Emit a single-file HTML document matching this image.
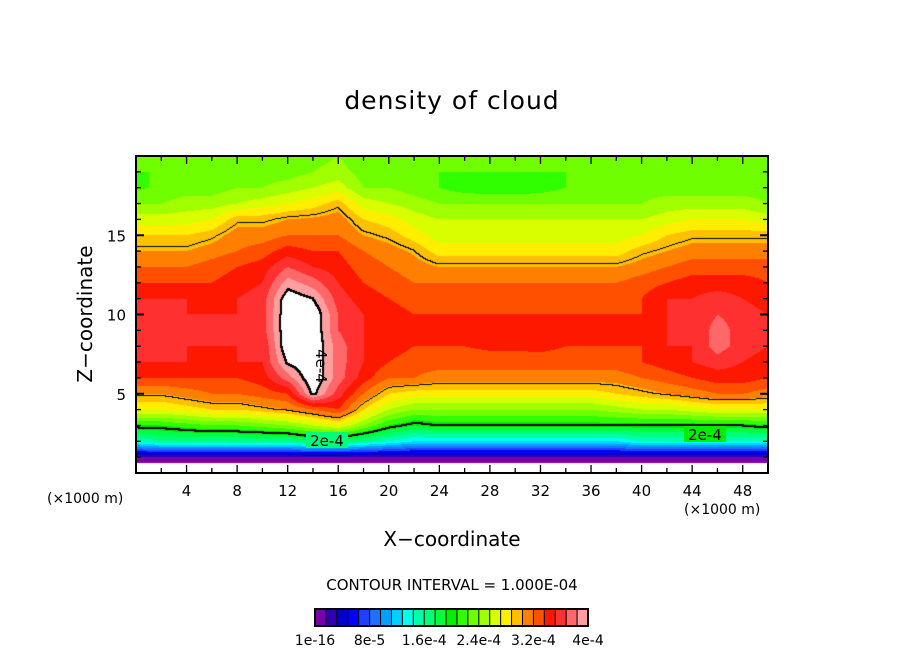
<!DOCTYPE html>
<html><head><meta charset="utf-8">
<style>
body{margin:0;background:#fff;width:904px;height:654px;overflow:hidden;position:relative;font-family:"DejaVu Sans","Liberation Sans",sans-serif;color:#000}
.t{position:absolute;white-space:nowrap}
#cv{position:absolute;left:136px;top:156px;display:block}
</style></head>
<body>
<div class="t" style="left:0;width:904px;text-align:center;top:86px;font-size:25px;letter-spacing:1px">density of cloud</div>
<canvas id="cv" width="632" height="317"></canvas>
<svg id="plot" width="904" height="654" style="position:absolute;left:0;top:0">
  <g id="over"></g>
</svg>
<div class="t" style="left:85px;top:314px;font-size:20px;transform:translate(-50%,-50%) rotate(-90deg)">Z−coordinate</div>
<div class="t" style="left:0;width:904px;text-align:center;top:527px;font-size:20px">X−coordinate</div>
<div class="t" style="left:47px;top:491px;font-size:14px">(×1000 m)</div>
<div class="t" style="left:684px;top:502px;font-size:14px">(×1000 m)</div>
<div class="t" style="left:0;width:904px;text-align:center;top:576px;font-size:15px">CONTOUR INTERVAL = 1.000E-04</div>
<script>
// cloud density grid, in units of 1.6e-5 (level index); columns x=0..50 step 2 km, rows z=0..20 step 1 km
const xKm=[0,2,4,6,8,10,12,14,16,18,20,22,24,26,28,30,32,34,36,38,40,42,44,46,48,50];
const zKm=[0,1,2,3,4,5,6,7,8,9,10,11,12,13,14,15,16,17,18,19,20];
const c00=[-1.5,1,9,13,17,19,21,22,22.5,23,22.5,22,21,20,19,18,16.5,15,13.8,14,14];
const c02=[-1.5,1,10,13,17,19,21,22,22.5,22.5,22.5,22,21,20,19,18,16.5,15,14.2,14,14];
const c04=[-1.5,1,10,13.5,17.5,19.5,21,22,22,22,22,22,21,20,19,18,16.5,15.5,14.5,14,14];
const c06=[-1.5,1,10,14,18,20,21,21.8,22,22,22,21.5,21,20.5,19.5,18.5,17,15.5,14.5,14,14];
const c08=[-1.5,1,10,14,18,20,21,22,22,22,22,22,21.5,21,20,19.5,18.5,16,15,14.5,14];
const c10=[-1.5,1,10,14.5,18.5,20.5,21.5,22,22,22.5,22.5,22.5,22,21.5,20.5,19.5,18.5,16.5,15,14.5,14];
const c12=[-1.5,1,10,15,19,21,23.5,25.2,26,26,26,25.8,24.5,23,21.5,20,19,17,15.5,14.5,14];
const c14=[-1.5,1,11,16,20,25.3,26,26,26,26,26,25,23.5,22,21,20,19.2,17.5,16,15,14.5];
const c16=[-1.5,1,11,17,21,22.5,23.5,23.5,23.5,23,23,22.5,22,21.5,21,20,19.5,18.5,16.5,15.5,15];
const c18=[-1.5,1,10,15,18,20,21.5,22,22,22,22,21.5,21,20.5,20,19,18,16.5,15,14.5,14];
const c20=[-1.5,1,9,13,16,18,20,21,21.5,21.5,21.5,21,20.5,20,19.5,18.5,17.5,16,15,14.5,14];
const c22=[-1.5,1,8,12,15,17.5,20,20.5,21,21,21,20.5,20,19.5,18.8,17.5,16.5,15.5,14.5,14.5,14.5];
const c24=[-1.5,1,8,12.5,15,17.5,19.5,20.5,21,21,21,20.5,20,19,17.5,16.5,16,15,14,14,14.5];
const c26=[-1.5,1,8,12.5,15,17.5,19.5,20.5,21,21,21,20.5,20,19,17.5,16.5,16,15,13.5,14,14.5];
const c28=[-1.5,1,8,12.5,15,17.5,19.5,20.5,21.2,21.2,21,20.5,20,19,17.5,16.5,16,15,13.3,14,14.5];
const c30=[-1.5,1,8,12.5,15,17.5,19.5,20.5,21.2,21.2,21,20.5,20,19,17.5,16.5,16,15,13.3,14,14.5];
const c32=[-1.5,1,8,12.5,15,17.5,19.5,20.5,21.3,21.2,21,20.5,20,19,17.5,16.5,16,15,13.5,14,14.5];
const c34=[-1.5,1,8,12.5,15,17.5,19.5,20.5,21,21,21,20.5,20,19,17.5,16.5,16,15,14,14,14.5];
const c36=[-1.5,1,8,12.5,15,17.5,19.5,20.5,21,21,21,20.5,20,19,17.5,16.5,16,15,14.5,14.5,14.5];
const c38=[-1.5,1,8,12.5,15.5,18,19.5,20.5,21,21,21,20.5,20,19,17.5,16.5,16,15,14.5,14.5,14.5];
const c40=[-1.5,1,9,12.5,16,18.5,20,21,21,21,21,21,20.5,19.5,18.5,17,16,15,14.5,14.5,14.5];
const c42=[-1.5,1,9,12.5,16,19,20.5,21.5,22,22,22,22,21,20,19,18,16.5,15.5,14.5,14.5,14.5];
const c44=[-1.5,1,9,12.5,16.5,19.5,21,22,22,22,22,22,21.5,20.5,19.5,18.5,17,15.5,14.5,14.5,14.5];
const c46=[-1.5,1,9,12.5,17,20,21.5,22.5,23.5,23.5,23,22.5,21.5,20.5,19.5,18.5,17,15.5,14.5,14.5,14.5];
const c48=[-1.5,1,9,12.5,17,20,21.5,22,22.5,22.5,22.5,22,21.5,20.5,19.5,18.5,17,15.5,14.5,14.5,14.5];
const c50=[-1.5,1,9,13,17,19.5,21,21.5,22,22,22,21.5,21,20.5,19.5,18.5,16.5,15,14.5,14.5,14.5];
const density=[c00,c02,c04,c06,c08,c10,c12,c14,c16,c18,c20,c22,c24,c26,c28,c30,c32,c34,c36,c38,c40,c42,c44,c46,c48,c50];
const xTicks=[4,8,12,16,20,24,28,32,36,40,44,48];
const yTicks=[5,10,15];
const cbLabels=["1e-16","8e-5","1.6e-4","2.4e-4","3.2e-4","4e-4"];
const palette=["#7a00aa","#3000b0","#0000c8","#0000ff","#1e40ff","#2070ff","#00a0ff","#00d0ff","#00ffee","#00ffaa","#00ff78","#00ff40","#00ee00","#30ff00","#70ff00","#a0ff00","#d8ff00","#ffee00","#ffc000","#ff8000","#ff5000","#ff1800","#ff3030","#ff6868","#ff9e9e"];
const contourLevels=[12.5,18.75,25];

const X0=136,X1=768,Y0=473,Y1=156;
const sx=v=>X0+(v-0)/(50-0)*(X1-X0);
const sy=v=>Y0-(v-0)/(20-0)*(Y0-Y1);
const NS="http://www.w3.org/2000/svg";
function field(x,z){
  let i=Math.min(xKm.length-2,Math.max(0,Math.floor(x/2))); let j=Math.min(zKm.length-2,Math.max(0,Math.floor(z)));
  let fx=(x-xKm[i])/(xKm[i+1]-xKm[i]), fz=(z-zKm[j])/(zKm[j+1]-zKm[j]);
  const a=density[i][j],b=density[i+1][j],c=density[i][j+1],d=density[i+1][j+1];
  return (a*(1-fx)+b*fx)*(1-fz)+(c*(1-fx)+d*fx)*fz;
}
const W=632,H=317;
const cv=document.getElementById('cv');const ctx=cv.getContext('2d');
const img=ctx.createImageData(W,H);
const vals=new Float32Array(W*H);
for(let py=0;py<H;py++)for(let px=0;px<W;px++){
  const x=(px+0.5)/W*50, z=(H-py-0.5)/H*20;
  vals[py*W+px]=field(x,z);
}
function rgb(h){return [parseInt(h.substr(1,2),16),parseInt(h.substr(3,2),16),parseInt(h.substr(5,2),16)];}
const pal=palette.map(rgb);
function lvl(v,L){return v>=L?1:0;}
for(let p=0;p<W*H;p++){
  const v=vals[p];let c;
  if(v<0||v>=25)c=[255,255,255];else c=pal[Math.min(24,Math.floor(v))];
  img.data[p*4]=c[0];img.data[p*4+1]=c[1];img.data[p*4+2]=c[2];img.data[p*4+3]=255;
}
for(let py=0;py<H-1;py++)for(let px=0;px<W-1;px++){
  const p=py*W+px;
  for(const L of contourLevels){
    const a=lvl(vals[p],L),b=lvl(vals[p+1],L),c=lvl(vals[p+W],L);
    if(a!==b||a!==c){
      const thick=(L!==18.75)?1:0;
      for(let dy=0;dy<=thick;dy++)for(let dx=0;dx<=thick;dx++){const q=(py+dy)*W+px+dx;img.data[q*4]=0;img.data[q*4+1]=0;img.data[q*4+2]=0;}
    }
  }
}
ctx.putImageData(img,0,0);

const over=document.getElementById('over');
function add(tag,attrs,name,text){const e=document.createElementNS(NS,tag);for(const k in attrs)e.setAttribute(k,attrs[k]);
  
  
  if(text!==undefined)e.textContent=text;over.appendChild(e);return e;}
add('rect',{x:306,y:432,width:42,height:16,fill:'#00ff78'},'label-bg');
add('text',{x:327,y:446,'text-anchor':'middle','font-size':15,'font-family':'DejaVu Sans, Liberation Sans, sans-serif'},'contour-label-2e-4','2e-4');
add('rect',{x:684,y:426,width:42,height:16,fill:'#00ee00'},'label-bg');
add('text',{x:705,y:440,'text-anchor':'middle','font-size':15,'font-family':'DejaVu Sans, Liberation Sans, sans-serif'},'contour-label-2e-4','2e-4');
add('text',{x:0,y:0,'text-anchor':'middle','font-size':15,'font-family':'DejaVu Sans, Liberation Sans, sans-serif',transform:'translate(316,366) rotate(90)'},'contour-label-4e-4','4e-4');
add('rect',{x:X0,y:Y1,width:X1-X0,height:Y0-Y1,fill:'none',stroke:'#000','stroke-width':2},'plot-frame');
for(let v=2;v<50;v+=2){const big=v%4===0;const L=big?8:5;
  add('line',{x1:sx(v),x2:sx(v),y1:Y0,y2:Y0-L,stroke:'#000','stroke-width':1.3},'x-tick');
  add('line',{x1:sx(v),x2:sx(v),y1:Y1,y2:Y1+L,stroke:'#000','stroke-width':1.3},'x-tick-top');}
for(let v=1;v<20;v++){const big=v%5===0;const L=big?8:5;
  add('line',{x1:X0,x2:X0+L,y1:sy(v),y2:sy(v),stroke:'#000','stroke-width':big?2:1.3},'y-tick');
  add('line',{x1:X1,x2:X1-L,y1:sy(v),y2:sy(v),stroke:'#000','stroke-width':big?2:1.3},'y-tick-right');}
xTicks.forEach(v=>add('text',{x:sx(v),y:496,'text-anchor':'middle','font-size':15,'font-family':'DejaVu Sans, Liberation Sans, sans-serif'},'x-tick-label',String(v)));
yTicks.forEach(v=>add('text',{x:126,y:sy(v)+6,'text-anchor':'end','font-size':15,'font-family':'DejaVu Sans, Liberation Sans, sans-serif'},'y-tick-label',String(v)));
const cbX=315,cbW=273,cbY=609,cbH=17;
palette.forEach((c,i)=>add('rect',{x:cbX+i*cbW/25,y:cbY,width:cbW/25+0.3,height:cbH,fill:c,stroke:'#000','stroke-width':1},'colorbar-swatch'));
add('rect',{x:cbX,y:cbY,width:cbW,height:cbH,fill:'none',stroke:'#000','stroke-width':2},'colorbar-frame');
cbLabels.forEach((t,i)=>add('text',{x:cbX+i*cbW/5,y:645,'text-anchor':'middle','font-size':14,'font-family':'DejaVu Sans, Liberation Sans, sans-serif'},'colorbar-label',t));
</script>
</body></html>
